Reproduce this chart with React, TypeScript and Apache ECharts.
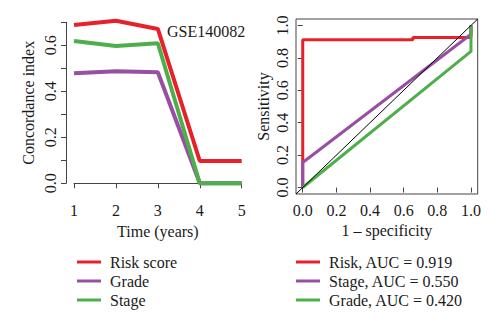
import React, { useEffect, useRef } from "react";
import * as echarts from "echarts";

// Left panel: concordance index over time
const years = [1, 2, 3, 4, 5];
const riskScoreCI = [0.688, 0.707, 0.671, 0.097, 0.097];
const gradeCI = [0.478, 0.487, 0.483, 0.0, 0.0];
const stageCI = [0.619, 0.597, 0.609, 0.0, 0.0];

// Right panel: ROC curves (1 - specificity, sensitivity)
const rocRiskFPR = [0, 0, 0.655, 0.655, 1, 1];
const rocRiskTPR = [0, 0.912, 0.912, 0.926, 0.926, 1];
const rocStageFPR = [0, 0, 1, 1];
const rocStageTPR = [0, 0.154, 0.946, 1];
const rocGradeFPR = [0, 1, 1];
const rocGradeTPR = [0, 0.84, 1];
const diagonalEnds = [-0.04, 1.04];
const rocTicks = [0, 0.2, 0.4, 0.6, 0.8, 1];

const leftLegend = ["Risk score", "Grade", "Stage"];
const rightLegend = ["Risk, AUC = 0.919", "Stage, AUC = 0.550", "Grade, AUC = 0.420"];

const RED = "#E8202A";
const PURPLE = "#984EA3";
const GREEN = "#4DAF4A";
const FONT = "Liberation Serif";
const INK = "#1a1a1a";
const AXIS = "#444";

const zip = (xs: number[], ys: number[]) => xs.map((x, i) => [x, ys[i]]);

const mkLine = () => ({ show: true, lineStyle: { color: AXIS, width: 1 } });
const mkTick = (extra: object = {}) => ({ show: true, length: 5, lineStyle: { color: AXIS, width: 1 }, ...extra });
const mkName = () => ({ color: INK, fontFamily: FONT, fontSize: 16 });
const mkLegend = (data: string[], left: number) => ({
  data,
  left,
  top: 254,
  orient: "vertical",
  padding: 0,
  itemWidth: 24,
  itemHeight: 3,
  itemGap: 3,
  icon: "rect",
  textStyle: { color: INK, fontFamily: FONT, fontSize: 16, lineHeight: 16, padding: [0, 0, 0, 4] },
});
const mkSeries = (name: string, xi: number, data: number[][], color: string, width: number) => ({
  type: "line",
  name,
  xAxisIndex: xi,
  yAxisIndex: xi,
  data,
  showSymbol: false,
  clip: false,
  color,
  lineStyle: { width, color },
});

export default function App() {
  const ref = useRef<HTMLDivElement>(null);
  useEffect(() => {
    if (!ref.current) return;
    const chart = echarts.init(ref.current, undefined, { renderer: "svg" });
    chart.setOption({
      animation: false,
      backgroundColor: "#fff",
      title: {
        text: "GSE140082",
        left: 167,
        top: 23,
        padding: 0,
        textStyle: { color: INK, fontFamily: FONT, fontSize: 16, fontWeight: "normal" },
      },
      legend: [mkLegend(leftLegend, 77), mkLegend(rightLegend, 296)],
      grid: [
        { left: 74, top: 22.3, width: 167.7, height: 161, show: false },
        { left: 296, top: 19, width: 181.7, height: 175, show: true, borderColor: AXIS, borderWidth: 1 },
      ],
      xAxis: [
        {
          type: "value",
          gridIndex: 0,
          min: 1,
          max: 5,
          interval: 1,
          offset: 7.7,
          axisLine: mkLine(),
          axisTick: mkTick(),
          splitLine: { show: false },
          axisLabel: { color: INK, fontSize: 16, fontFamily: FONT, margin: 11 },
          name: "Time (years)",
          nameLocation: "middle",
          nameGap: 32,
          nameTextStyle: mkName(),
        },
        {
          type: "value",
          gridIndex: 1,
          min: -0.04,
          max: 1.04,
          axisLine: { show: false },
          axisTick: mkTick({ customValues: rocTicks }),
          splitLine: { show: false },
          axisLabel: {
            color: INK,
            fontSize: 16,
            fontFamily: FONT,
            margin: 8,
            customValues: rocTicks,
            formatter: (v: number) => v.toFixed(1),
          },
          name: "1 \u2013 specificity",
          nameLocation: "middle",
          nameGap: 28,
          nameTextStyle: mkName(),
        },
      ],
      yAxis: [
        {
          type: "value",
          gridIndex: 0,
          min: 0,
          max: 0.7,
          interval: 0.1,
          offset: 8,
          axisLine: mkLine(),
          axisTick: mkTick(),
          splitLine: { show: false },
          axisLabel: {
            color: INK,
            fontSize: 16,
            fontFamily: FONT,
            rotate: 90,
            margin: 8,
            formatter: (v: number) => (Math.round(v * 10) % 2 === 0 ? v.toFixed(1) : ""),
          },
          name: "Concordance index",
          nameLocation: "middle",
          nameGap: 30,
          nameTextStyle: mkName(),
        },
        {
          type: "value",
          gridIndex: 1,
          min: -0.04,
          max: 1.04,
          axisLine: { show: false },
          axisTick: mkTick({ customValues: rocTicks }),
          splitLine: { show: false },
          axisLabel: {
            color: INK,
            fontSize: 16,
            fontFamily: FONT,
            rotate: 90,
            margin: 6,
            customValues: rocTicks,
            formatter: (v: number) => v.toFixed(1),
          },
          name: "Sensitivity",
          nameLocation: "middle",
          nameGap: 25,
          nameTextStyle: mkName(),
        },
      ],
      series: [
        mkSeries("Risk score", 0, zip(years, riskScoreCI), RED, 4),
        mkSeries("Grade", 0, zip(years, gradeCI), PURPLE, 4),
        mkSeries("Stage", 0, zip(years, stageCI), GREEN, 4),
        mkSeries(rightLegend[0], 1, zip(rocRiskFPR, rocRiskTPR), RED, 3),
        mkSeries(rightLegend[1], 1, zip(rocStageFPR, rocStageTPR), PURPLE, 3),
        mkSeries(rightLegend[2], 1, zip(rocGradeFPR, rocGradeTPR), GREEN, 3),
        mkSeries("diagonal", 1, zip(diagonalEnds, diagonalEnds), "#000", 1),
      ],
    });
    return () => chart.dispose();
  }, []);
  return <div ref={ref} style={{ width: 500, height: 328, position: "absolute", left: 0, top: 0 }} />;
}
